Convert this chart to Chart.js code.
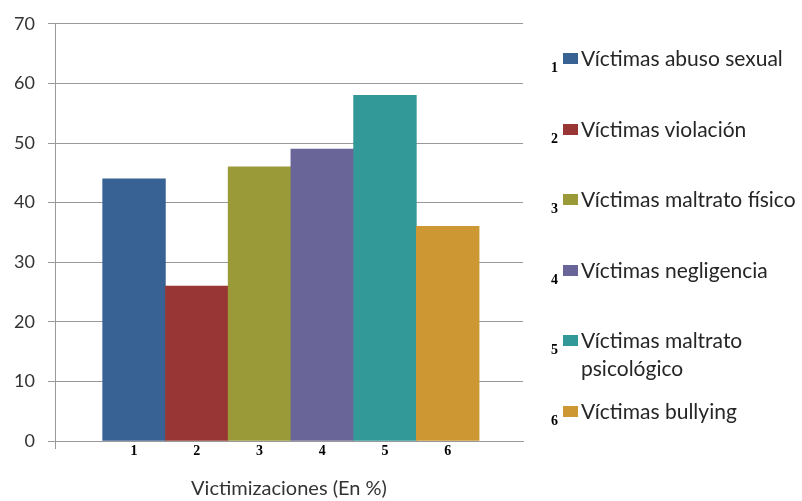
<!DOCTYPE html>
<html>
<head>
<meta charset="utf-8">
<script src="https://cdn.jsdelivr.net/npm/chart.js@4.4.1/dist/chart.umd.min.js"></script>
<style>
  html, body { margin: 0; padding: 0; background: #fff; }
  #wrap { position: relative; width: 802px; height: 501px; }
  #chart { position: absolute; left: 0; top: 0; }
  #legend { position: absolute; left: 545px; top: 22px; font-family: Lato, "Open Sans", sans-serif; font-size: 21px; color: #262626; }
  .row { position: relative; height: 70.5px; }
  .num { position: absolute; left: 6px; top: 38px; font: bold 14px "Liberation Serif", serif; color: #000; }
  .box { position: absolute; left: 18px; top: 31px; width: 15px; height: 11px; }
  .txt { position: absolute; left: 36px; top: 22px; line-height: 28px; white-space: nowrap; }
</style>
</head>
<body>
<div id="wrap">
  <canvas id="chart" width="802" height="501"></canvas>
  <div id="legend"></div>
</div>
<script>
const categories = ['1', '2', '3', '4', '5', '6'];
const seriesNames = [
    'Víctimas abuso sexual',
    'Víctimas violación',
    'Víctimas maltrato físico',
    'Víctimas negligencia',
    'Víctimas maltrato<br>psicológico',
    'Víctimas bullying'
];
const values = [44, 26, 46, 49, 58, 36];
const colors = ['#386293', '#973634', '#9a9a38', '#6a6598', '#339898', '#cd9834'];
const yTicks = [0, 10, 20, 30, 40, 50, 60, 70];

// legend on the right, one row per series
const legendEl = document.getElementById('legend');
seriesNames.forEach(function (name, i) {
    const row = document.createElement('div');
    row.className = 'row';
    row.innerHTML = '<span class="num">' + categories[i] + '</span>' +
        '<span class="box" style="background:' + colors[i] + '"></span>' +
        '<span class="txt">' + name + '</span>';
    legendEl.appendChild(row);
});

// small tick under the left end of the category axis
const cornerTick = {
    id: 'cornerTick',
    afterDraw: function (chart) {
        const ctx = chart.ctx;
        const a = chart.chartArea;
        ctx.save();
        ctx.strokeStyle = '#999';
        ctx.lineWidth = 1;
        ctx.beginPath();
        ctx.moveTo(Math.round(a.left) + 0.5, a.bottom);
        ctx.lineTo(Math.round(a.left) + 0.5, a.bottom + 8);
        ctx.stroke();
        ctx.restore();
    }
};

const ctx = document.getElementById('chart').getContext('2d');
new Chart(ctx, {
    type: 'bar',
    data: {
        datasets: [{
            data: values.map(function (v, i) { return { x: i + 1, y: v }; }),
            backgroundColor: colors,
            borderWidth: 0,
            barPercentage: 1,
            categoryPercentage: 1
        }]
    },
    plugins: [cornerTick],
    options: {
        responsive: false,
        animation: false,
        layout: { padding: { top: 20.5, right: 279, left: 0, bottom: 0 } },
        plugins: {
            legend: { display: false },
            tooltip: { enabled: false }
        },
        scales: {
            x: {
                type: 'linear',
                offset: false,
                min: -0.26,
                max: 7.2,
                afterBuildTicks: function (scale) {
                    scale.ticks = categories.map(function (c, i) { return { value: i + 1 }; });
                },
                afterFit: function (scale) { scale.height = 60; },
                ticks: {
                    autoSkip: false,
                    maxRotation: 0,
                    padding: 2,
                    color: '#000',
                    font: { family: 'Liberation Serif', size: 14, weight: 'bold' },
                    callback: function (value) { return categories[value - 1]; }
                },
                grid: { display: false, tickLength: 0 },
                border: { display: true, color: '#999', width: 1 },
                title: {
                    display: true,
                    text: 'Victimizaciones (En %)',
                    color: '#333',
                    font: { family: 'Lato', size: 20 },
                    padding: { top: 0, bottom: 0 }
                }
            },
            y: {
                min: 0,
                max: 70,
                afterBuildTicks: function (scale) {
                    scale.ticks = yTicks.map(function (v) { return { value: v }; });
                },
                afterFit: function (scale) { scale.width = 55; },
                ticks: {
                    padding: 13,
                    color: '#333',
                    font: { family: 'Lato', size: 18 }
                },
                grid: { color: '#999', tickLength: 7, lineWidth: 1 },
                border: { display: true, color: '#999', width: 1 }
            }
        }
    }
});
</script>
</body>
</html>
